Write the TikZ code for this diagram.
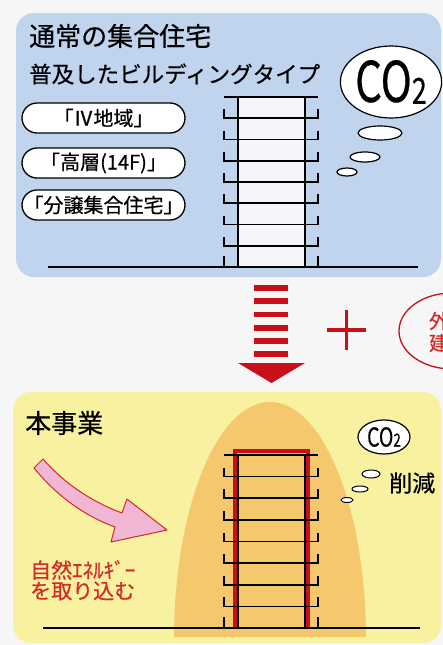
\documentclass[tikz,border=0pt]{standalone}
\usepackage{fontspec}
\setmainfont{Noto Sans CJK JP}[FakeBold=0.5]
\usepackage{graphicx}
\usetikzlibrary{shapes.geometric, positioning}

\definecolor{pageback}{HTML}{F6F6F6}
\definecolor{panelblue}{HTML}{C1D4EE}
\definecolor{panelyellow}{HTML}{F8F1A0}
\definecolor{gloworange}{HTML}{F5C86E}
\definecolor{towerwhite}{HTML}{F4F6FA}
\definecolor{mainred}{HTML}{C8101A}
\definecolor{textred}{HTML}{D42A2A}
\definecolor{arrowpink}{HTML}{F0B6D4}

\tikzstyle{panel_box} = [rounded corners=18pt]
\tikzstyle{title_text} = [anchor=west, inner sep=0pt, font=\fontsize{26}{28}\selectfont]
\tikzstyle{sub_text} = [anchor=west, inner sep=0pt, font=\fontsize{22.5}{24}\selectfont]
\tikzstyle{pill_node} = [rectangle, rounded corners=15pt, draw=black, fill=white, line width=1.3pt, minimum width=163pt, minimum height=30pt, inner sep=0pt, font=\fontsize{20}{22}\selectfont]
\tikzstyle{cloud_node} = [ellipse, draw=black, fill=white, line width=1.2pt, inner sep=0pt]
\tikzstyle{floor_line} = [line width=1.6pt, black]
\tikzstyle{red_text} = [inner sep=0pt, text=textred, font=\fontsize{21}{22}\selectfont]

% tower: roof at #1, ground at #2, seven floors with balconies
\newcommand{\drawtower}[2]{%
  \pgfmathsetmacro{\flr}{(#2-#1)/8}
  \draw[floor_line] (224,#1) -- (318,#1);
  \draw[floor_line] (238,#1) -- (238,#2) (305,#1) -- (305,#2);
  \foreach \k in {1,...,7} {
    \pgfmathsetmacro{\yy}{#1+\k*\flr}
    \draw[floor_line] (224,\yy-9) -- (224,\yy) -- (318,\yy) -- (318,\yy-9);
  }
  \draw[floor_line] (224,#2-11) -- (224,#2) (318,#2-11) -- (318,#2);
}
\newcommand{\cotwo}[3]{\scalebox{0.75}[1]{\fontsize{#1}{#1}\selectfont CO\raisebox{-#3pt}{\fontsize{#2}{#2}\selectfont 2}}}

\begin{document}
\begin{tikzpicture}[x=1pt, y=-1pt]
\useasboundingbox (0,0) rectangle (443,645);
\clip (0,0) rectangle (443,645);
\fill[pageback] (0,0) rectangle (443,645);

% upper panel
\fill[panelblue, panel_box] (16,13) rectangle (441,277);
\node (usual) [title_text] at (29,36) {通常の集合住宅};
\node (common) [sub_text] at (29,74) {普及したビルディングタイプ};
\node (region) [pill_node] at (103.5,118) {「Ⅳ地域」};
\node (highrise) [pill_node] at (103.5,163) {「高層(14F)」};
\node (condo) [pill_node] at (103.5,205) {「分譲集合住宅」};

\fill[towerwhite] (238,97) rectangle (305,267);
\drawtower{97}{267}
\draw[floor_line] (48,267) -- (418,267);

\node (co2a) [cloud_node, minimum width=98pt, minimum height=72pt] at (391,82) {\cotwo{56}{36}{2}};
\node (puffa1) [cloud_node, minimum width=44pt, minimum height=14pt] at (380,133) {};
\node (puffa2) [cloud_node, minimum width=30pt, minimum height=10pt] at (365,157) {};
\node (puffa3) [cloud_node, minimum width=20pt, minimum height=8pt] at (347,172) {};

% striped arrow and plus
\foreach \y in {285,298,311.5,325,338,351} {
  \fill[mainred] (254,\y) rectangle (288,\y+5.5);
}
\fill[mainred] (238,363) -- (305,363) -- (271.5,383) -- cycle;
\draw[mainred, line width=3.5pt] (327,330) -- (366,330) (346.5,310) -- (346.5,350);

\draw[mainred, line width=1.3pt] (452,331) ellipse [x radius=53, y radius=38];
\node (outer) [red_text, font=\fontsize{20}{22}\selectfont] at (439,321) {外};
\node (build) [red_text, font=\fontsize{20}{22}\selectfont] at (439,343) {建};

% lower panel
\fill[panelyellow, panel_box] (13,392) rectangle (441,643);
\begin{scope}
  \clip (0,392) rectangle (443,636);
  \fill[gloworange] (270,640) ellipse [x radius=96, y radius=238];
\end{scope}
\node (project) [title_text] at (25,423) {本事業};

\draw[mainred, line width=4pt] (235,628) -- (235,451) -- (307.5,451) -- (307.5,628);
\drawtower{455}{628}
\draw[floor_line] (43,628) -- (420,628);

\draw[textred, fill=arrowpink, line width=1pt, line join=round]
  (43,459) .. controls (68,488) and (100,505) .. (122,513) -- (127,499) -- (167,530)
  -- (111,542) -- (115,527) .. controls (90,518) and (60,500) .. (34,468) -- cycle;
\node (energy) [red_text, anchor=west] at (30,570) {自然ｴﾈﾙｷﾞｰ};
\node (intake) [red_text, anchor=west] at (30,591) {を取り込む};

\node (co2b) [cloud_node, minimum width=52pt, minimum height=34pt] at (384,437) {\cotwo{26}{18}{0}};
\node (puffb1) [cloud_node, minimum width=18pt, minimum height=8pt, line width=1pt] at (371,474) {};
\node (puffb2) [cloud_node, minimum width=16pt, minimum height=6pt, line width=1pt] at (360,489) {};
\node (puffb3) [cloud_node, minimum width=12pt, minimum height=5pt, line width=1pt] at (347,500) {};
\node (cut) [inner sep=0pt, font=\fontsize{23}{24}\selectfont, anchor=west] at (389,483) {削減};
\end{tikzpicture}
\end{document}
